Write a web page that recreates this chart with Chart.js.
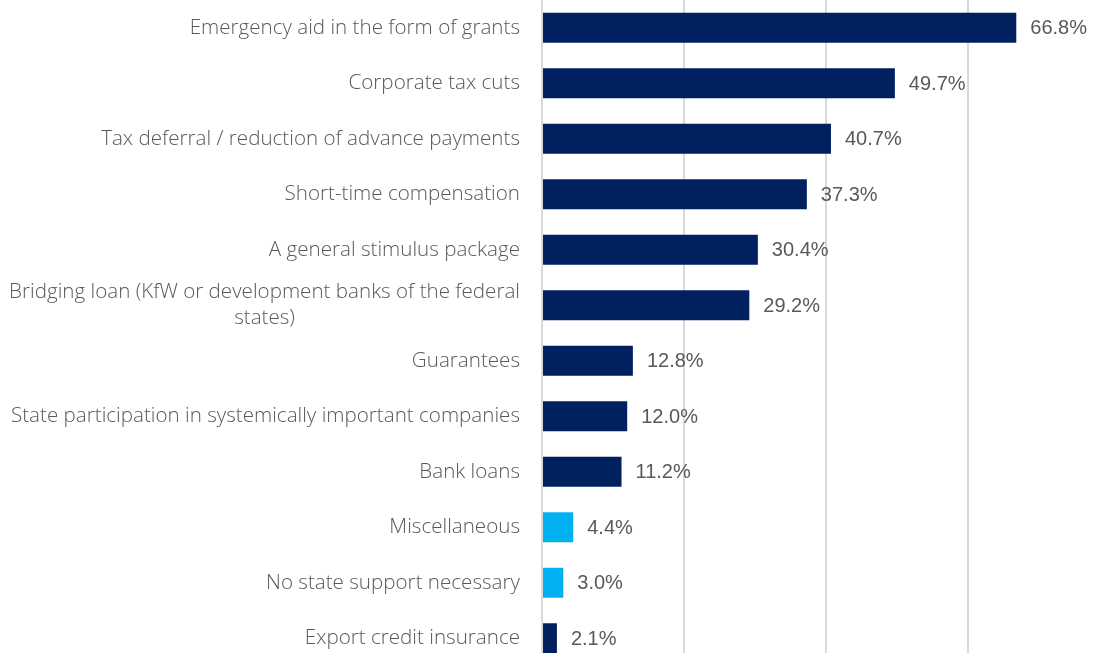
<!DOCTYPE html>
<html>
<head>
<meta charset="utf-8">
<script src="https://cdn.jsdelivr.net/npm/chart.js@4"></script>
<style>
  html, body { margin:0; padding:0; background:#fff; overflow:hidden; }
  #wrap { position:absolute; left:0; top:0; width:1110px; height:666px; }
</style>
</head>
<body>
<div id="wrap"><canvas id="grafico"></canvas></div>
<script>
// measures asked for by companies
const categorias = [
    "Emergency aid in the form of grants",
    "Corporate tax cuts",
    "Tax deferral / reduction of advance payments",
    "Short-time compensation",
    "A general stimulus package",
    ["Bridging loan (KfW or development banks of the federal", "states)"],
    "Guarantees",
    "State participation in systemically important companies",
    "Bank loans",
    "Miscellaneous",
    "No state support necessary",
    "Export credit insurance"
];
const valores = [66.8, 49.7, 40.7, 37.3, 30.4, 29.2, 12.8, 12.0, 11.2, 4.4, 3.0, 2.1];
const destaque = [false, false, false, false, false, false, false, false, false, true, true, false];
const ticksX = [0, 20, 40, 60, 80];

const azulEscuro = '#002060';
const azulClaro = '#00B0F0';
const corTexto = '#595959';
const fonteRotulo = '300 20.6px "Open Sans"';
const fonteValor = '20px "Liberation Sans"';

// category names on the left, wrapped lines centered in their block
const rotulosEsquerda = {
    id:'rotulosEsquerda',
    afterDraw(chart){
        const ctx = chart.ctx;
        const y = chart.scales.y;
        const direita = y.right - 22;
        ctx.save();
        ctx.font = fonteRotulo;
        ctx.fillStyle = corTexto;
        ctx.textBaseline = 'middle';
        ctx.textAlign = 'center';
        categorias.forEach((c, i)=>{
            const linhas = Array.isArray(c) ? c : [c];
            const larg = Math.max(...linhas.map(l=>ctx.measureText(l).width));
            const meio = direita - larg/2;
            const py = y.getPixelForValue(i);
            const alt = 26;
            linhas.forEach((l, k)=>{
                ctx.fillText(l, meio, py + (k - (linhas.length-1)/2)*alt);
            });
        });
        ctx.restore();
    }
};

// value at the end of each bar
const rotulosValor = {
    id:'rotulosValor',
    afterDatasetsDraw(chart){
        const ctx = chart.ctx;
        const meta = chart.getDatasetMeta(0);
        ctx.save();
        ctx.font = fonteValor;
        ctx.fillStyle = corTexto;
        ctx.textAlign = 'left';
        ctx.textBaseline = 'middle';
        meta.data.forEach((bar, i)=>{
            ctx.fillText(valores[i].toFixed(1) + '%', bar.x + 14, bar.y + 1);
        });
        ctx.restore();
    }
};

new Chart(document.getElementById('grafico'), {
    type:'bar',
    data:{
        labels: categorias,
        datasets:[{
            data: valores,
            backgroundColor: destaque.map(d=>d ? azulClaro : azulEscuro),
            categoryPercentage: 1,
            barPercentage: 0.54
        }]
    },
    options:{
        indexAxis:'y',
        responsive:true,
        maintainAspectRatio:false,
        animation:false,
        layout:{padding:0},
        plugins:{legend:{display:false}, tooltip:{enabled:false}},
        scales:{
            x:{
                min: ticksX[0],
                max: ticksX[ticksX.length-1],
                afterBuildTicks: s=>{ s.ticks = ticksX.map(v=>({value:v})); },
                grid:{color:'#d9d9d9', lineWidth:2, drawTicks:false},
                border:{display:false},
                ticks:{display:false}
            },
            y:{
                grid:{display:false, drawTicks:false},
                border:{display:false},
                ticks:{display:false},
                afterFit: s=>{ s.width = 542; }
            }
        }
    },
    plugins:[rotulosEsquerda, rotulosValor]
});
</script>
</body>
</html>
